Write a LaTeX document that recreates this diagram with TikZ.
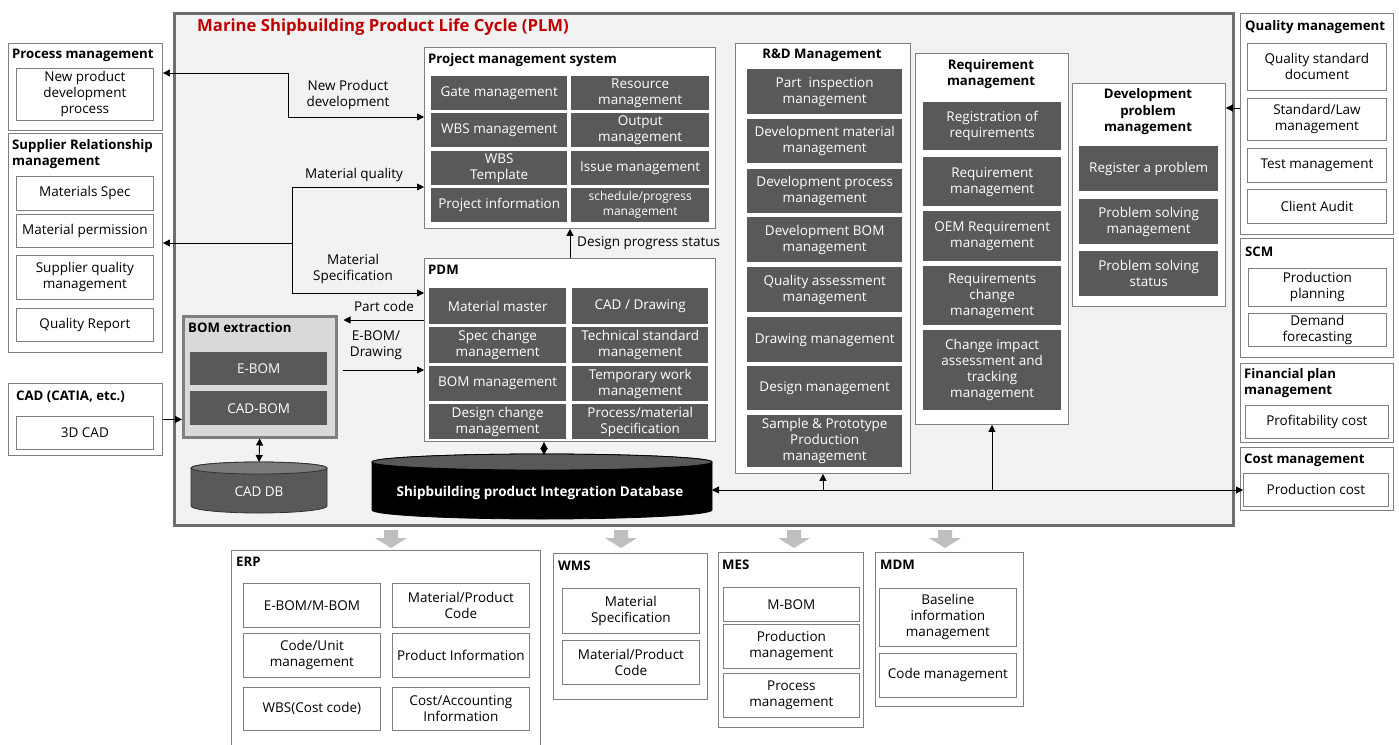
\documentclass[tikz,border=0pt]{standalone}
\usepackage{fontspec}
\setmainfont{Open Sans}
\usetikzlibrary{arrows.meta}

\definecolor{plmbg}{RGB}{242,242,242}
\definecolor{plmedge}{RGB}{110,110,110}
\definecolor{edge}{RGB}{127,127,127}
\definecolor{cellfill}{RGB}{89,89,89}
\definecolor{bomfill}{RGB}{217,217,217}
\definecolor{titlered}{RGB}{192,0,0}
\definecolor{blockarrow}{RGB}{191,191,191}
\definecolor{dbtopgray}{RGB}{122,122,122}

\tikzset{
  plmframe/.style={draw=plmedge, fill=plmbg, line width=3pt},
  panel/.style={draw=edge, fill=white, line width=0.9pt},
  bomframe/.style={draw=edge, fill=bomfill, line width=2.5pt},
  cell/.style={fill=cellfill, text=white, font=\fontsize{13.5}{16}\selectfont, align=center},
  smallcell/.style={cell, font=\fontsize{12}{15}\selectfont},
  wcell/.style={draw=edge, fill=white, line width=0.8pt, font=\fontsize{13.5}{16}\selectfont, align=center},
  head/.style={font=\fontsize{13.2}{16.5}\selectfont\bfseries, inner sep=0pt},
  lbl/.style={font=\fontsize{13.5}{16}\selectfont, align=center, inner sep=0pt},
  tip/.tip={Triangle[length=7pt,width=7pt]},
  conn/.style={line width=0.9pt, -tip},
  conn2/.style={line width=0.9pt, tip-tip},
}

% box given by its corners: name, style, x1, y1, x2, y2, text
\newcommand\bx[7]{%
  \pgfmathsetmacro\bxw{#5-#3}\pgfmathsetmacro\bxh{#6-#4}%
  \node[#2, anchor=north west, inner sep=0pt, minimum width=\bxw pt, minimum height=\bxh pt] (#1) at (#3,#4) {#7};}

\begin{document}
\begin{tikzpicture}[x=1pt,y=-1pt]
\useasboundingbox (0,0) rectangle (1399,744);
\fill[white] (0,0) rectangle (1399,744);

% ---------- PLM frame ----------
\bx{plm}{plmframe}{173}{12}{1232}{524}{}
\node[anchor=west, inner sep=0pt, text=titlered, font=\fontsize{16.7}{19}\selectfont\bfseries] (plmtitle) at (197,27) {Marine Shipbuilding Product Life Cycle (PLM)};

% ---------- left systems ----------
\bx{pm}{panel}{8}{43}{162}{130}{}
\node[head, anchor=west] (pmt) at (12,55) {Process management};
\bx{pm1}{wcell}{16}{68}{153}{120}{New product\\development\\process}

\bx{srm}{panel}{8}{133}{162}{352}{}
\node[head, anchor=north west, align=left] (srmt) at (12,139) {Supplier Relationship\\management};
\bx{srm1}{wcell}{16}{176}{153}{210}{Materials Spec}
\bx{srm2}{wcell}{16}{214}{153}{247}{Material permission}
\bx{srm3}{wcell}{16}{255}{153}{299}{Supplier quality\\management}
\bx{srm4}{wcell}{16}{308}{153}{341}{Quality Report}

\bx{cad}{panel}{8}{383}{162}{455}{}
\node[head, anchor=west] (cadt) at (16,397) {CAD (CATIA, etc.)};
\bx{cad1}{wcell}{16}{416}{153}{449}{3D CAD}

% ---------- BOM extraction ----------
\bx{bom}{bomframe}{182}{315}{335}{436}{}
\node[head, anchor=west] (bomt) at (188,328) {BOM extraction};
\bx{bom1}{cell}{190}{352}{327}{385}{E-BOM}
\bx{bom2}{cell}{190}{391}{327}{425}{CAD-BOM}

% ---------- Project management system ----------
\bx{pms}{panel}{424}{47}{715}{228}{}
\node[head, anchor=west] (pmst) at (428,60) {Project management system};
\bx{pms1}{cell}{431}{76}{567}{110}{Gate management}
\bx{pms2}{cell}{571}{76}{709}{110}{Resource\\management}
\bx{pms3}{cell}{431}{113}{567}{147}{WBS management}
\bx{pms4}{cell}{571}{113}{709}{147}{Output\\management}
\bx{pms5}{cell}{431}{151}{567}{185}{WBS\\Template}
\bx{pms6}{cell}{571}{151}{709}{185}{Issue management}
\bx{pms7}{cell}{431}{188}{567}{222}{Project information}
\bx{pms8}{smallcell}{571}{188}{709}{222}{schedule/progress\\management}

% ---------- PDM ----------
\bx{pdm}{panel}{424}{258}{715}{441}{}
\node[head, anchor=west] (pdmt) at (428,270) {PDM};
\bx{pdm1}{cell}{429}{288}{566}{324}{Material master}
\bx{pdm2}{cell}{572}{288}{708}{324}{CAD / Drawing}
\bx{pdm3}{cell}{429}{327}{566}{363}{Spec change\\management}
\bx{pdm4}{cell}{572}{327}{708}{363}{Technical standard\\management}
\bx{pdm5}{cell}{429}{366}{566}{401}{BOM management}
\bx{pdm6}{cell}{572}{366}{708}{401}{Temporary work\\management}
\bx{pdm7}{cell}{429}{404}{566}{439}{Design change\\management}
\bx{pdm8}{cell}{572}{404}{708}{439}{Process/material\\Specification}

% ---------- R&D Management ----------
\bx{rnd}{panel}{735}{43}{910}{473}{}
\node[head] (rndt) at (822,55) {R\&D Management};
\bx{rnd1}{cell}{747}{69}{902}{114}{Part\ \ inspection\\management}
\bx{rnd2}{cell}{747}{119}{902}{163}{Development material\\management}
\bx{rnd3}{cell}{747}{169}{902}{213}{Development process\\management}
\bx{rnd4}{cell}{747}{217}{902}{262}{Development BOM\\management}
\bx{rnd5}{cell}{747}{267}{902}{312}{Quality assessment\\management}
\bx{rnd6}{cell}{747}{317}{902}{362}{Drawing management}
\bx{rnd7}{cell}{747}{366}{902}{410}{Design management}
\bx{rnd8}{cell}{747}{415}{902}{467}{Sample \& Prototype\\Production\\management}

% ---------- Requirement management ----------
\bx{req}{panel}{915}{53}{1068}{424}{}
\node[head, align=center] (reqt) at (991,74) {Requirement\\management};
\bx{req1}{cell}{923}{102}{1061}{150}{Registration of\\requirements}
\bx{req2}{cell}{923}{157}{1061}{206}{Requirement\\management}
\bx{req3}{cell}{923}{211}{1061}{261}{OEM Requirement\\management}
\bx{req4}{cell}{923}{266}{1061}{325}{Requirements\\change\\management}
\bx{req5}{cell}{923}{330}{1061}{410}{Change impact\\assessment and\\tracking\\management}

% ---------- Development problem management ----------
\bx{dpm}{panel}{1072}{83}{1225}{306}{}
\node[head, align=center] (dpmt) at (1148,112) {Development\\problem\\management};
\bx{dpm1}{cell}{1079}{146}{1218}{191}{Register a problem}
\bx{dpm2}{cell}{1079}{199}{1218}{244}{Problem solving\\management}
\bx{dpm3}{cell}{1079}{251}{1218}{296}{Problem solving\\status}

% ---------- right systems ----------
\bx{qm}{panel}{1240}{13}{1393}{234}{}
\node[head, anchor=west] (qmt) at (1245,27) {Quality management};
\bx{qm1}{wcell}{1247}{43}{1386}{90}{Quality standard\\document}
\bx{qm2}{wcell}{1247}{98}{1386}{140}{Standard/Law\\management}
\bx{qm3}{wcell}{1247}{148}{1386}{182}{Test management}
\bx{qm4}{wcell}{1247}{189}{1386}{223}{Client Audit}

\bx{scm}{panel}{1240}{238}{1393}{357}{}
\node[head, anchor=west] (scmt) at (1245,252) {SCM};
\bx{scm1}{wcell}{1248}{268}{1386}{306}{Production\\planning}
\bx{scm2}{wcell}{1248}{313}{1386}{346}{Demand\\forecasting}

\bx{fin}{panel}{1240}{363}{1393}{442}{}
\node[head, anchor=north west, align=left] (fint) at (1244,368) {Financial plan\\management};
\bx{fin1}{wcell}{1245}{405}{1388}{438}{Profitability cost}

\bx{cost}{panel}{1240}{447}{1393}{510}{}
\node[head, anchor=west] (costt) at (1244,460) {Cost management};
\bx{pcost}{wcell}{1243}{473}{1388}{506}{Production cost}

% ---------- databases ----------
\fill[cellfill, draw=black!80, line width=0.8pt] (191,468) -- (191,506)
  arc[start angle=180, end angle=360, x radius=68pt, y radius=7pt] -- (327,468)
  arc[start angle=0, end angle=180, x radius=68pt, y radius=6pt] -- cycle;
\filldraw[fill=dbtopgray, draw=black!80, line width=0.8pt] (259,468) ellipse [x radius=68pt, y radius=6pt];
\node[text=white, font=\fontsize{13.5}{16}\selectfont] (caddb) at (259,492) {CAD DB};
\coordinate (caddbtop) at (259,462);

\fill[black, draw=black, line width=0.8pt] (372,462) -- (372,510)
  arc[start angle=180, end angle=360, x radius=170pt, y radius=9pt] -- (712,462)
  arc[start angle=0, end angle=180, x radius=170pt, y radius=8pt] -- cycle;
\filldraw[fill=cellfill, draw=black, line width=0.8pt] (542,462) ellipse [x radius=170pt, y radius=8pt];
\node[text=white, font=\fontsize{13.5}{16}\selectfont\bfseries] (shipdb) at (540,493) {Shipbuilding product Integration Database};
\coordinate (dbtop) at (544,455);
\coordinate (dbr) at (712,490);

% ---------- connectors ----------
\draw[conn2] ([yshift=-30pt]pm.north east) -- ++(126,0) |- ([yshift=-70pt]pms.north west);
\node[lbl] (lnpd) at (348,95) {New Product\\development};

\coordinate (mq) at (292,243);
\draw[conn] (mq) -- (srm.east |- mq);
\draw[conn] (mq) |- ([yshift=-140pt]pms.north west);
\draw[conn] (mq) |- ([yshift=-35pt]pdm.north west);
\node[lbl] (lmq) at (354,175) {Material quality};
\node[lbl] (lms) at (353,269) {Material\\Specification};

\coordinate (pc) at ([yshift=-62pt]pdm.north west);
\draw[conn, shorten >=6pt] (pc) -- (bom.east |- pc);
\node[lbl] (lpc) at (384,306) {Part code};

\coordinate (eb) at ([yshift=-112pt]pdm.north west);
\draw[conn, shorten <=5pt] (bom.east |- eb) -- (eb);
\node[lbl] (leb) at (376,345) {E-BOM/\\Drawing};

\draw[conn] (cad.east) -- (bom.west |- cad.east);
\draw[conn2] (bom.south) -- (caddbtop);

\draw[conn] (pdm.north) -- (pms.south);
\node[lbl, anchor=west] (ldps) at (577,243) {Design progress status};

\draw[conn2] (pdm.south -| dbtop) -- (dbtop);

\draw[conn2] (dbr) -- (pcost.west |- dbr);
\draw[conn] (rnd.south |- dbr) -- (rnd.south);
\draw[conn] (req.south |- dbr) -- (req.south);

\coordinate (qa) at ([yshift=-25pt]dpm.north east);
\draw[conn] (qm.west |- qa) -- (qa);

% ---------- downstream block arrows ----------
\foreach \ax in {391,621,794,945} {
  \fill[blockarrow] (\ax-7,530) -- (\ax+7,530) -- (\ax+7,538) -- (\ax+16,538)
    -- (\ax,548) -- (\ax-16,538) -- (\ax-7,538) -- cycle;
}

% ---------- ERP ----------
\bx{erp}{panel}{231}{550}{540}{748}{}
\node[head, anchor=west] (erpt) at (236,562) {ERP};
\bx{erp1}{wcell}{243}{583}{380}{627}{E-BOM/M-BOM}
\bx{erp2}{wcell}{392}{583}{529}{627}{Material/Product\\Code}
\bx{erp3}{wcell}{243}{633}{380}{677}{Code/Unit\\management}
\bx{erp4}{wcell}{392}{633}{529}{677}{Product Information}
\bx{erp5}{wcell}{243}{687}{380}{730}{WBS(Cost code)}
\bx{erp6}{wcell}{392}{687}{529}{730}{Cost/Accounting\\Information}

% ---------- WMS ----------
\bx{wms}{panel}{553}{553}{707}{699}{}
\node[head, anchor=west] (wmst) at (558,566) {WMS};
\bx{wms1}{wcell}{562}{588}{699}{633}{Material\\Specification}
\bx{wms2}{wcell}{562}{640}{699}{684}{Material/Product\\Code}

% ---------- MES ----------
\bx{mes}{panel}{718}{552}{863}{727}{}
\node[head, anchor=west] (mest) at (722,565) {MES};
\bx{mes1}{wcell}{723}{587}{859}{621}{M-BOM}
\bx{mes2}{wcell}{723}{624}{859}{668}{Production\\management}
\bx{mes3}{wcell}{723}{673}{859}{717}{Process\\management}

% ---------- MDM ----------
\bx{mdm}{panel}{875}{552}{1023}{706}{}
\node[head, anchor=west] (mdmt) at (880,565) {MDM};
\bx{mdm1}{wcell}{879}{588}{1016}{646}{Baseline\\information\\management}
\bx{mdm2}{wcell}{879}{653}{1016}{697}{Code management}

\end{tikzpicture}
\end{document}
